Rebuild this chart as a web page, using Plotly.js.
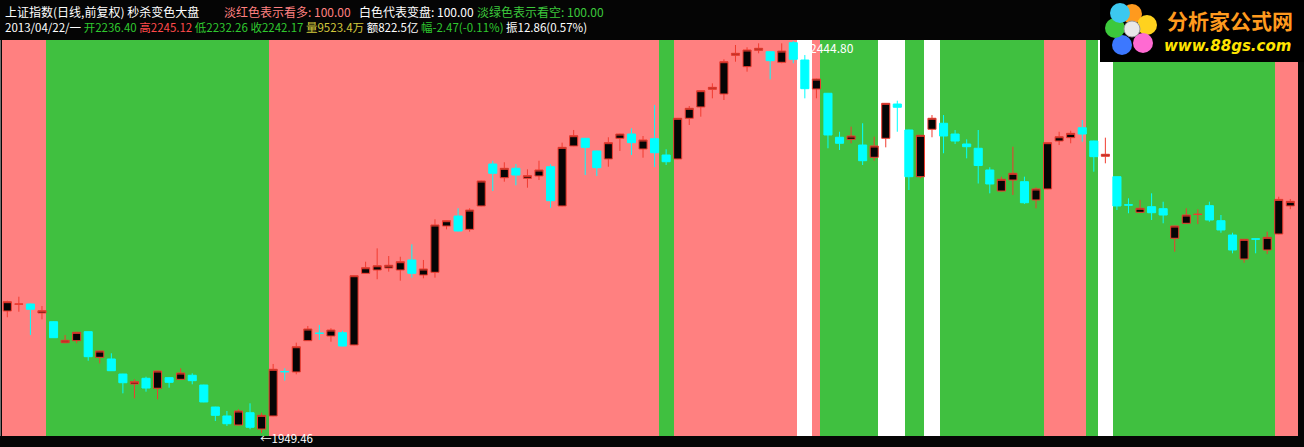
<!DOCTYPE html>
<html><head><meta charset="utf-8">
<script src="https://cdn.plot.ly/plotly-3.0.1.min.js"></script>
<style>html,body{margin:0;padding:0;background:#000;overflow:hidden}#chart{width:1304px;height:447px}</style>
</head><body><div id="chart"></div>
<script>
// ---- data ----
const opens = [2103.6,2112.3,2112.5,2101.1,2090.1,2063.6,2066.1,2077.5,2045.1,2043.0,
2024.0,2011.4,2018.6,2006.0,2019.4,2017.3,2022.4,2010.1,1982.3,1971.0,
1959.6,1975.1,1954.5,1971.0,2027.1,2026.6,2066.1,2075.6,2072.0,2076.2,
2060.7,2151.2,2155.4,2157.9,2155.4,2168.1,2149.1,2152.5,2211.0,2223.6,
2206.8,2236.3,2289.3,2272.0,2283.9,2271.3,2274.2,2285.9,2236.3,2312.1,
2321.8,2305.8,2295.7,2321.8,2327.2,2308.3,2321.3,2300.7,2295.7,2347.1,
2361.4,2383.7,2377.8,2426.7,2412.3,2433.0,2431.2,2417.8,2442.6,2420.7,
2384.1,2378.7,2323.1,2320.5,2313.3,2297.8,2321.8,2365.1,2332.3,2273.3,
2333.2,2340.8,2327.2,2314.6,2309.2,2281.8,2255.2,2269.1,2267.0,2243.9,
2257.8,2318.4,2322.6,2335.2,2318.4,2299.1,2273.3,2237.7,2228.3,2235.4,
2232.9,2195.5,2214.4,2225.6,2236.7,2217.7,2199.6,2169.3,2194.7,2180.7,
2200.9,2236.40];
const highs = [2116.6,2121.7,2113.0,2109.9,2090.5,2073.3,2077.2,2077.8,2053.5,2050.2,
2024.3,2017.3,2020.6,2028.2,2019.8,2031.2,2024.9,2010.5,1982.6,1977.3,
1979.4,1987.0,1975.1,2036.7,2031.2,2063.6,2084.7,2085.9,2081.8,2078.7,
2148.6,2165.9,2182.8,2173.1,2172.2,2187.9,2168.1,2219.5,2218.1,2233.4,
2233.4,2268.3,2293.5,2291.5,2289.3,2282.6,2293.5,2289.0,2316.3,2332.3,
2322.2,2306.2,2323.1,2327.6,2334.4,2324.7,2363.9,2307.9,2347.5,2362.6,
2382.4,2391.3,2421.6,2439.7,2436.8,2441.8,2431.6,2441.8,2444.80,2427.0,
2397.1,2379.1,2330.1,2336.5,2340.8,2323.8,2366.4,2369.3,2332.7,2326.0,
2351.2,2351.2,2332.3,2320.5,2332.3,2285.2,2273.3,2311.2,2273.3,2259.9,
2316.7,2330.1,2331.4,2344.9,2318.8,2322.6,2273.7,2246.0,2243.9,2252.3,
2241.7,2211.4,2233.4,2232.1,2241.7,2224.9,2202.5,2194.6,2194.9,2203.8,
2248.0,2245.12];
const lows = [2095.7,2102.7,2073.3,2093.1,2069.5,2062.8,2062.8,2040.8,2037.5,2027.8,
1999.6,1993.3,2001.7,1992.1,2006.7,2016.9,2011.0,1988.3,1964.6,1958.3,
1959.2,1954.2,1949.46,1970.6,2015.6,2023.6,2065.7,2067.0,2064.8,2059.0,
2060.3,2150.8,2143.7,2153.3,2141.9,2145.7,2144.9,2145.7,2206.8,2204.3,
2203.8,2235.9,2255.2,2267.0,2262.4,2259.4,2269.1,2234.1,2235.9,2311.7,
2275.4,2274.2,2285.9,2305.8,2300.7,2297.3,2285.5,2288.1,2295.3,2338.6,
2349.1,2372.3,2370.2,2418.6,2406.0,2429.2,2396.3,2416.6,2416.6,2372.3,
2372.3,2309.2,2307.0,2315.5,2288.1,2293.5,2310.4,2330.1,2256.5,2271.3,
2323.1,2302.9,2314.6,2296.5,2264.7,2252.3,2254.8,2250.2,2238.8,2233.4,
2257.4,2313.3,2315.5,2317.5,2279.6,2290.2,2231.2,2227.1,2227.9,2218.6,
2214.4,2178.5,2214.0,2213.5,2216.4,2202.5,2176.5,2164.6,2176.5,2175.6,
2200.5,2232.26];
const closes = [2115.4,2112.5,2105.8,2104.0,2069.9,2066.6,2076.7,2045.9,2053.1,2028.2,
2013.0,2014.3,2006.3,2027.8,2013.5,2025.3,2015.6,1988.7,1971.8,1961.2,
1977.3,1956.7,1971.8,2030.0,2026.9,2058.5,2080.9,2075.4,2079.6,2059.4,
2148.2,2158.3,2160.8,2161.4,2165.9,2151.2,2156.7,2212.3,2217.7,2204.7,
2231.2,2267.9,2277.6,2283.9,2275.4,2274.6,2281.8,2243.0,2310.4,2325.1,
2310.4,2284.7,2316.3,2327.2,2316.3,2319.7,2303.6,2292.2,2347.1,2359.7,
2382.0,2386.2,2418.6,2429.2,2433.4,2435.5,2419.9,2432.1,2421.6,2384.5,
2396.7,2326.0,2315.5,2324.7,2293.5,2312.1,2366.0,2361.0,2273.3,2325.6,
2347.1,2324.7,2318.4,2311.2,2287.4,2264.1,2270.0,2277.6,2240.4,2257.8,
2316.3,2323.8,2328.1,2327.2,2298.6,2301.6,2236.3,2237.5,2233.4,2227.8,
2224.9,2211.0,2224.9,2225.8,2218.6,2206.0,2180.7,2194.2,2194.5,2196.7,
2244.64,2242.17];
// background state per bar: 1 = 淡红 看多, -1 = 淡绿 看空, 0 = 白色 变盘
const signal = [1,1,1,1,
-1,-1,-1,-1,-1,-1,-1,-1,-1,-1,-1,-1,-1,-1,-1,-1,-1,-1,-1,
1,1,1,1,1,1,1,1,1,1,1,1,1,1,1,1,1,1,1,1,1,1,1,1,1,1,1,1,1,1,1,1,1,1,
-1,
1,1,1,1,1,1,1,1,1,1,1,
0,
1,
-1,-1,-1,-1,-1,
0,0,
-1,-1,
0,
-1,-1,-1,-1,-1,-1,-1,-1,-1,
1,1,1,1,
-1,
0,
-1,-1,-1,-1,-1,-1,-1,-1,-1,-1,-1,-1,-1,-1,
1,1];
const lowMark = {index: 22, value: 1949.46};
const highMark = {index: 68, value: 2444.80};
const headerLine1 = ["上证指数(日线,前复权) 秒杀变色大盘", "淡红色表示看多: 100.00", "白色代表变盘: 100.00", "淡绿色表示看空: 100.00"];
const headerLine2 = ["2013/04/22/一", "开2236.40", "高2245.12", "低2232.26", "收2242.17", "量9523.4万", "额822.5亿", "幅-2.47(-0.11%)", "振12.86(0.57%)"];
const logoTitle = "分析家公式网";
const logoUrl = "www.88gs.com";

// ---- styles / layout ----
const W = 1304, H = 447, L = 2, R = 6, T = 40, B = 11;
const PW = W - L - R, PH = H - T - B;
const X = px => (px - L) / PW;
const Y = py => (H - B - py) / PH;
const PINK = '#ff8080', GREEN = '#40c040', WHITE = '#ffffff';
const FONT = '"Noto Sans CJK SC", "DejaVu Sans", sans-serif';

const idx = opens.map((_, i) => i);
const bandTrace = (val, color) => ({
  type: 'bar', x: idx, y: signal.map(s => s === val ? 1 : null), base: 0, width: 1.3,
  marker: {color: color, line: {width: 0}}, xaxis: 'x', yaxis: 'y', hoverinfo: 'skip'
});

const traces = [
  bandTrace(1, PINK), bandTrace(-1, GREEN), bandTrace(0, WHITE),
  {type: 'candlestick', x: idx, open: opens, high: highs, low: lows, close: closes,
   xaxis: 'x', yaxis: 'y2', whiskerwidth: 0, hoverinfo: 'skip',
   increasing: {line: {color: '#f03c30', width: 1}, fillcolor: '#050505'},
   decreasing: {line: {color: '#00ffff', width: 1}, fillcolor: '#00ffff'}}
];

const line1X = [3, 222, 357, 475];
const line1C = [WHITE, '#ff8080', WHITE, '#3cc83c'];
const line2C = [WHITE, '#2fc82f', '#ff4a4a', '#2fc82f', '#2fc82f', '#d2c83c', WHITE, '#2fc82f', WHITE];

const ann = [];
headerLine1.forEach((t, i) => ann.push({xref: 'paper', yref: 'paper', x: X(line1X[i]), y: Y(12), xanchor: 'left', yanchor: 'middle', text: t, showarrow: false, font: {family: FONT, size: 12, color: line1C[i]}}));
const line2Text = headerLine2.map((t, i) => '<span style="color:' + line2C[i] + '">' + t + '</span>').join(' ');
ann.push({xref: 'paper', yref: 'paper', x: X(3), y: Y(27), xanchor: 'left', yanchor: 'middle', text: line2Text, showarrow: false, font: {family: FONT, size: 11.5, color: WHITE}});
ann.push({xref: 'x', yref: 'y2', x: lowMark.index, y: lowMark.value, xanchor: 'left', yanchor: 'middle', xshift: -3, yshift: -5, text: '←' + lowMark.value.toFixed(2), showarrow: false, borderpad: 0, font: {family: FONT, size: 11.5, color: WHITE}});
ann.push({xref: 'x', yref: 'y2', x: highMark.index, y: highMark.value, xanchor: 'left', yanchor: 'middle', xshift: 3, yshift: -7, text: '←' + highMark.value.toFixed(2), showarrow: false, font: {family: FONT, size: 12, color: WHITE}});
ann.push({xref: 'paper', yref: 'paper', x: X(1165), y: Y(20), xanchor: 'left', yanchor: 'middle', text: logoTitle, showarrow: false, font: {family: FONT, size: 21, color: '#ff9a1e', weight: 'bold'}});
ann.push({xref: 'paper', yref: 'paper', x: X(1162), y: Y(46), xanchor: 'left', yanchor: 'middle', text: '<i>' + logoUrl + '</i>', showarrow: false, font: {family: '"DejaVu Sans", sans-serif', size: 15, color: '#ffe400', weight: 'bold'}});

const shapes = [
  {type: 'rect', xref: 'paper', yref: 'paper', x0: X(1100), x1: X(1304), y0: Y(62), y1: Y(0), fillcolor: '#000000', line: {width: 0}, layer: 'above'},
  {type: 'line', xref: 'paper', yref: 'paper', x0: X(0.5), x1: X(0.5), y0: Y(436), y1: Y(40), line: {color: '#707070', width: 1}, layer: 'above'}
];
// flower logo petals
const petals = [[1132, 14, '#ff9a1e'], [1147, 25, '#ffd21e'], [1143, 43, '#ff6ad2'], [1122, 45, '#3c78ff'], [1115, 28, '#3cc83c'], [1120, 13, '#3cc8f0']];
petals.forEach(p => shapes.push({type: 'circle', xref: 'paper', yref: 'paper', x0: X(p[0] - 10), x1: X(p[0] + 10), y0: Y(p[1] + 10), y1: Y(p[1] - 10), fillcolor: p[2], line: {width: 0}, layer: 'above'}));
shapes.push({type: 'circle', xref: 'paper', yref: 'paper', x0: X(1124), x1: X(1140), y0: Y(37), y1: Y(21), fillcolor: '#e8e8e8', line: {color: '#999', width: 1}, layer: 'above'});

const layout = {
  width: W, height: H, margin: {l: L, r: R, t: T, b: B, pad: 0},
  paper_bgcolor: '#050505', plot_bgcolor: PINK, showlegend: false,
  barmode: 'overlay', bargap: 0, boxgap: 0.3, boxgroupgap: 0,
  xaxis: {range: [-0.4585, 111.666], visible: false, rangeslider: {visible: false}, fixedrange: true},
  yaxis: {range: [0, 1], visible: false, fixedrange: true},
  yaxis2: {range: [1945.69, 2446], overlaying: 'y', visible: false, fixedrange: true},
  annotations: ann, shapes: shapes
};
Plotly.newPlot('chart', traces, layout, {staticPlot: true, displayModeBar: false});
</script></body></html>
